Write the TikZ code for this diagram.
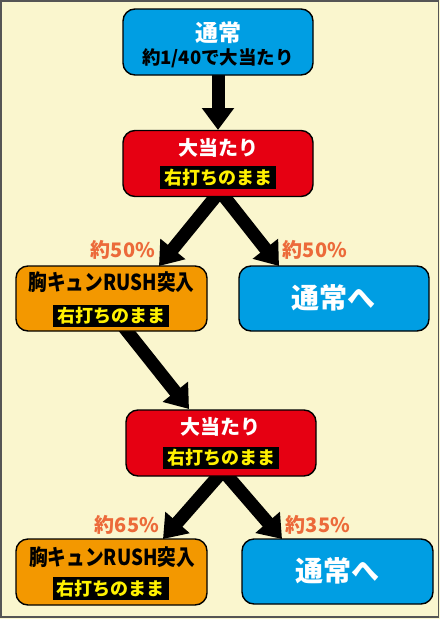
\documentclass[tikz,border=0pt]{standalone}
\usepackage{fontspec}
\setmainfont{Noto Sans CJK JP}
\usetikzlibrary{arrows.meta}
\pgfdeclarelayer{back}
\pgfdeclarelayer{bg}
\pgfsetlayers{back,bg,main}
\definecolor{bgyellow}{HTML}{FAF6CE}
\definecolor{boxblue}{HTML}{009EE3}
\definecolor{boxred}{HTML}{E60012}
\definecolor{boxorange}{HTML}{F39800}
\definecolor{tagyellow}{HTML}{FFF100}
\definecolor{pctorange}{HTML}{EC6A3A}
\definecolor{framegray}{HTML}{555555}
\tikzset{
  box/.style={draw=black, line width=1.4pt, rounded corners=12pt, minimum width=190pt, minimum height=66pt, inner sep=0pt},
  bluebox/.style={box, fill=boxblue},
  redbox/.style={box, fill=boxred},
  orangebox/.style={box, fill=boxorange},
  title/.style={inner sep=0pt, font=\bfseries\fontsize{20}{20}\selectfont, text=white},
  subline/.style={inner sep=0pt, font=\bfseries\fontsize{18.5}{18.5}\selectfont, text=black},
  rushline/.style={inner sep=0pt, font=\bfseries\fontsize{22}{22}\selectfont, text=black},
  tag/.style={fill=black, text=tagyellow, inner sep=0pt, minimum width=116pt, minimum height=23pt, font=\bfseries\fontsize{18}{18}\selectfont},
  pct/.style={inner sep=0pt, text=pctorange, font=\bfseries\fontsize{20}{20}\selectfont},
  bigarrow/.style={line width=13pt, -{Triangle[width=31pt,length=22pt]}, black},
}
\begin{document}
\begin{tikzpicture}[x=1pt,y=-1pt]
\begin{pgfonlayer}{back}
\fill[bgyellow] (0,0) rectangle (440,619);
\end{pgfonlayer}
\useasboundingbox (0,0) rectangle (440,619);
\draw[framegray, line width=1.5pt] (1,1) rectangle (438.5,617);

% boxes
\node[bluebox] (n1) at (218,42) {};
\node[title, font=\bfseries\fontsize{23}{23}\selectfont] (n1a) at (218,32.5) {通常};
\node[subline] (n1b) at (218,58.5) {約1/40で大当たり};

\node[redbox] (n2) at (218,163.5) {};
\node[title] (n2a) at (218,147.5) {大当たり};
\node[tag] (n2b) at (218,177.5) {右打ちのまま};

\node[orangebox, minimum width=191pt, minimum height=65pt] (n3) at (111.5,298.5) {};
\node[rushline] (n3a) at (111.5,282) {\scalebox{0.85}[1]{胸キュンRUSH突入}};
\node[tag, minimum height=22pt] (n3b) at (111,316) {右打ちのまま};

\node[bluebox, minimum height=65pt] (n4) at (334,298.5) {};
\node[title, font=\bfseries\fontsize{28}{28}\selectfont] (n4a) at (333,298) {通常へ};

\node[redbox] (n5) at (221,443) {};
\node[title] (n5a) at (220,426.5) {大当たり};
\node[tag, minimum height=22pt] (n5b) at (221,458) {右打ちのまま};

\node[orangebox, minimum width=191pt] (n6) at (111.5,572) {};
\node[rushline] (n6a) at (112,557.5) {\scalebox{0.85}[1]{胸キュンRUSH突入}};
\node[tag] (n6b) at (110.5,588.5) {右打ちのまま};

\node[bluebox, minimum width=191pt, minimum height=65pt] (n7) at (337.5,571.5) {};
\node[title, font=\bfseries\fontsize{28}{28}\selectfont] (n7a) at (337.5,570.5) {通常へ};

% percentages
\node[pct] (p1) at (123,250) {約50\%};
\node[pct] (p2) at (315,250) {約50\%};
\node[pct] (p3) at (127,525) {約65\%};
\node[pct] (p4) at (318,525) {約35\%};

% arrow end points
\coordinate (t1) at (218,130);
\coordinate (t2) at (159,266);
\coordinate (t3) at (279,266);
\coordinate (s4) at (123,326);
\coordinate (t4) at (189,409);
\coordinate (t5) at (163,539);
\coordinate (t6) at (282,539);

\begin{pgfonlayer}{bg}
\draw[bigarrow] ([yshift=4pt]n1.south) -- (t1);
\draw[bigarrow] ([xshift=2pt,yshift=6pt]n2.south) -- (t2);
\draw[bigarrow] ([xshift=2pt,yshift=6pt]n2.south) -- (t3);
\draw[bigarrow] (s4) -- (t4);
\draw[bigarrow] ([xshift=2pt,yshift=6pt]n5.south) -- (t5);
\draw[bigarrow] ([xshift=2pt,yshift=6pt]n5.south) -- (t6);
\end{pgfonlayer}
\end{tikzpicture}
\end{document}
